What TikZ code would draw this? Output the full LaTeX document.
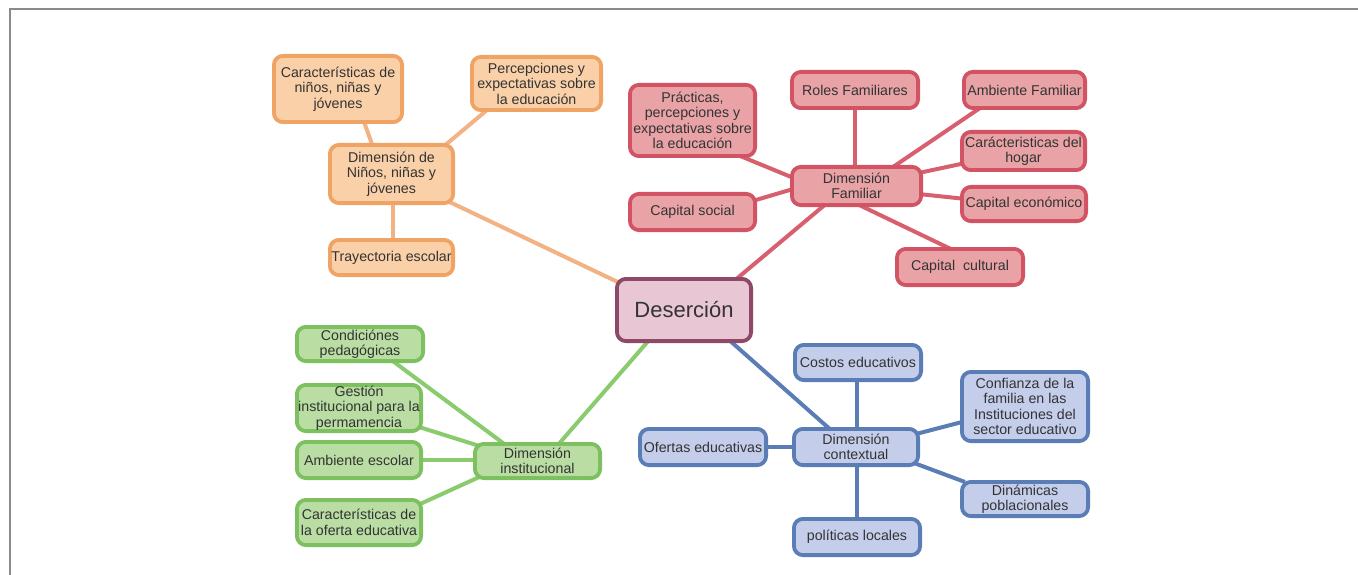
\documentclass[tikz,border=0pt]{standalone}
\usepackage{fontspec}
\setmainfont{Liberation Sans}
\usetikzlibrary{calc,backgrounds}
\definecolor{ofill}{HTML}{FAD0A8}\definecolor{odraw}{HTML}{EFA466}\definecolor{oline}{HTML}{F2B283}
\definecolor{rfill}{HTML}{E9A3A6}\definecolor{rdraw}{HTML}{D25464}\definecolor{rline}{HTML}{D8606E}
\definecolor{gfill}{HTML}{B9DDA3}\definecolor{gdraw}{HTML}{7DC060}\definecolor{gline}{HTML}{8ACB6E}
\definecolor{bfill}{HTML}{C4CEEB}\definecolor{bdraw}{HTML}{5B7DB5}\definecolor{bline}{HTML}{5B7DB5}
\definecolor{dfill}{HTML}{E8C6D4}\definecolor{ddraw}{HTML}{8E4868}
\definecolor{txt}{HTML}{333333}\definecolor{frame}{HTML}{8A8A8A}
\tikzset{
  box/.style={rounded corners=9pt, line width=3.8pt, inner sep=0pt, align=center,
    text=txt, font=\fontsize{14.2}{15.5}\selectfont},
  obox/.style={box, draw=odraw, fill=ofill},
  rbox/.style={box, draw=rdraw, fill=rfill},
  gbox/.style={box, draw=gdraw, fill=gfill},
  bbox/.style={box, draw=bdraw, fill=bfill},
  dbox/.style={box, draw=ddraw, fill=dfill, font=\fontsize{22}{24}\selectfont},
  sz/.style 2 args={minimum width=#1pt-3.8pt, minimum height=#2pt-3.8pt},
  conn/.style={line width=4pt},
}
\begin{document}
\begin{tikzpicture}[x=1pt,y=-1pt]
\useasboundingbox (0,0) rectangle (1358,575);
\draw[frame, line width=2pt] (9.5,575) coordinate (fa) -- (9.5,9.5) coordinate (fb) -- (1358,9.5) coordinate (fc);

% orange
\node[obox, sz={132}{70}] (car) at (338,89) {Características de\\niños, niñas y\\jóvenes};
\node[obox, sz={133}{57}] (perc) at (536.5,83.5) {Percepciones y\\expectativas sobre\\la educación};
\node[obox, sz={127}{62}] (dimN) at (391.5,174) {Dimensión de\\Niños, niñas y\\jóvenes};
\node[obox, sz={127}{39}] (tray) at (391.5,257.5) {Trayectoria escolar};
% red
\node[rbox, sz={129}{75}] (prac) at (692.5,120.5) {Prácticas,\\percepciones y\\expectativas sobre\\la educación};
\node[rbox, sz={130}{40}] (roles) at (855,90) {Roles Familiares};
\node[rbox, sz={125}{40}] (amb) at (1024.5,90) {Ambiente Familiar};
\node[rbox, sz={127}{42}] (carh) at (1023.5,151) {Carácteristicas del\\hogar};
\node[rbox, sz={133}{42}] (dimF) at (856.5,186) {Dimensión\\Familiar};
\node[rbox, sz={129}{40}] (capsoc) at (692.5,212) {Capital social};
\node[rbox, sz={128}{38}] (capeco) at (1024,204) {Capital económico};
\node[rbox, sz={130}{40}] (capcul) at (960,267) {Capital\ \ cultural};
% center
\node[dbox, sz={138}{66}] (des) at (684,310) {Deserción};
% green
\node[gbox, sz={130}{38}] (cond) at (360,344) {Condiciónes\\pedagógicas};
\node[gbox, sz={128}{50}] (gest) at (359,408) {Gestión\\institucional para la\\permamencia};
\node[gbox, sz={128}{40}] (ambe) at (359,460) {Ambiente escolar};
\node[gbox, sz={128}{49}] (cof) at (359,522.5) {Características de\\la oferta educativa};
\node[gbox, sz={129}{38}] (dimI) at (537.5,461) {Dimensión\\institucional};
% blue
\node[bbox, sz={130}{39}] (costos) at (858,362.5) {Costos educativos};
\node[bbox, sz={130}{73}] (conf) at (1025,406.5) {Confianza de la\\familia en las\\Instituciones del\\sector educativo};
\node[bbox, sz={130}{40}] (ofer) at (703,447) {Ofertas educativas};
\node[bbox, sz={128}{40}] (dimC) at (856,447) {Dimensión\\contextual};
\node[bbox, sz={130}{38}] (dinam) at (1025,499) {Dinámicas\\poblacionales};
\node[bbox, sz={130}{40}] (polit) at (857,537) {políticas locales};

\begin{scope}[on background layer]
\draw[conn, oline] ($(car)+(25,30)$) -- ($(dimN)+(-18.5,-27)$);
\draw[conn, oline] ($(perc)+(-46.5,24)$) -- ($(dimN)+(51.5,-27)$);
\draw[conn, oline] ($(dimN)+(1.5,27)$) -- ($(tray)+(1.5,-15)$);
\draw[conn, oline] ($(dimN)+(56,27)$) -- ($(des)+(-60,-25)$);

\draw[conn, rline] ($(prac)+(44,34)$) -- ($(dimF)+(-58,-6)$);
\draw[conn, rline] ($(roles)+(0,16)$) -- ($(dimF)+(-1.5,-17)$);
\draw[conn, rline] ($(amb)+(-41.5,16)$) -- ($(dimF)+(33.5,-17)$);
\draw[conn, rline] ($(carh)+(-58,12)$) -- ($(dimF)+(62,-13)$);
\draw[conn, rline] ($(capeco)+(-58,-5)$) -- ($(dimF)+(62,8)$);
\draw[conn, rline] ($(capsoc)+(60,-11)$) -- ($(dimF)+(-60,2)$);
\draw[conn, rline] ($(capcul)+(-5,-16)$) -- ($(dimF)+(-1.5,17)$);
\draw[conn, rline] ($(dimF)+(-29.5,17)$) -- ($(des)+(50,-29)$);

\draw[conn, gline] ($(cond)+(30,15)$) -- ($(dimI)+(-30.5,-15)$);
\draw[conn, gline] ($(gest)+(60,19)$) -- ($(dimI)+(-58,-15)$);
\draw[conn, gline] ($(ambe)+(60,0)$) -- ($(dimI)+(-60,-1)$);
\draw[conn, gline] ($(cof)+(60,-18)$) -- ($(dimI)+(-56,15)$);
\draw[conn, gline] ($(dimI)+(19.5,-15)$) -- ($(des)+(-34,29)$);

\draw[conn, bline] ($(des)+(44,29)$) -- ($(dimC)+(-24,-16)$);
\draw[conn, bline] ($(costos)+(-1,15)$) -- ($(dimC)+(1,-16)$);
\draw[conn, bline] ($(conf)+(-61,15)$) -- ($(dimC)+(60,-13)$);
\draw[conn, bline] ($(ofer)+(61,0)$) -- ($(dimC)+(-60,0)$);
\draw[conn, bline] ($(dinam)+(-60,-17)$) -- ($(dimC)+(58,16)$);
\draw[conn, bline] ($(polit)+(0,-16)$) -- ($(dimC)+(1,16)$);
\end{scope}
\end{tikzpicture}
\end{document}
